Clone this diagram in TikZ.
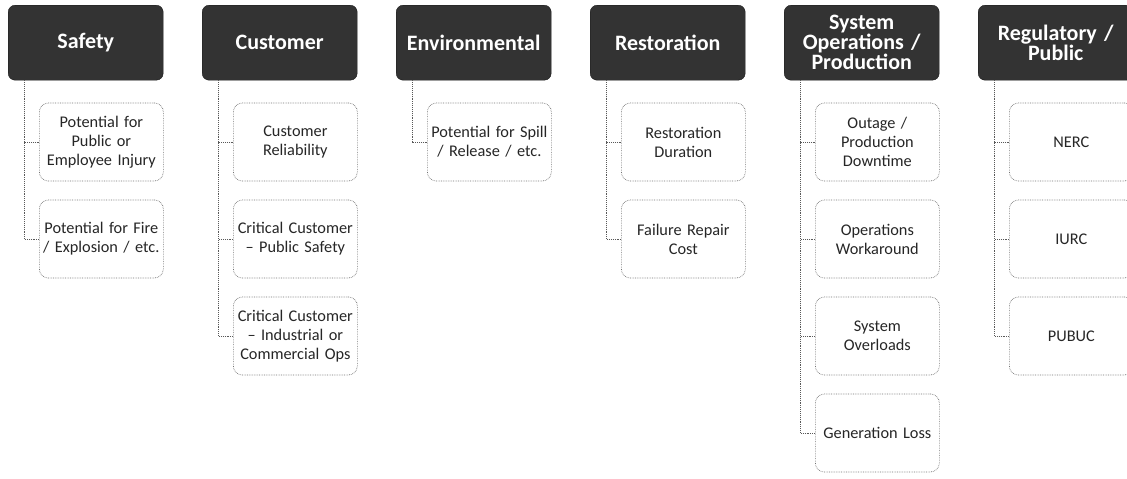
\documentclass[tikz,border=0pt]{standalone}
\usepackage{fontspec}
\setmainfont{Carlito}
\begin{document}
\begin{tikzpicture}[x=1pt,y=-1pt,
  head/.style={draw=black!90, fill=black!80, rounded corners=7pt,
    minimum width=155pt, minimum height=75pt, text width=152pt, inner sep=1pt,
    align=center, text=white, font=\bfseries\fontsize{22}{20}\selectfont,
    anchor=north west},
  leaf/.style={draw=black!55, densely dotted, line width=0.7pt, rounded corners=9pt,
    minimum width=124pt, minimum height=78pt, text width=122pt, inner sep=1pt,
    align=center, text=black!85, font=\fontsize{16.3}{19}\selectfont, anchor=west},
  link/.style={draw=black!65, densely dotted, line width=0.9pt}]
\clip (0,0) rectangle (1127,479);
\fill[white] (0,0) rectangle (1127,479);

% category headers
\node[head] (h1) at (8,5)   {Safety};
\node[head] (h2) at (202,5) {Customer};
\node[head] (h3) at (396,5) {Environmental};
\node[head] (h4) at (590,5) {Restoration};
\node[head] (h5) at (784,5) {System\\Operations /\\Production};
\node[head] (h6) at (978,5) {Regulatory /\\Public};

% Safety
\node[leaf] (s1) at (39,142) {Potential for\\Public or\\Employee Injury};
\node[leaf] (s2) at (39,239) {Potential for Fire\\/ Explosion / etc.};
% Customer
\node[leaf] (c1) at (233,142) {Customer\\Reliability};
\node[leaf] (c2) at (233,239) {Critical Customer\\– Public Safety};
\node[leaf] (c3) at (233,336) {Critical Customer\\– Industrial or\\Commercial Ops};
% Environmental
\node[leaf] (e1) at (427,142) {Potential for Spill\\/ Release / etc.};
% Restoration
\node[leaf] (r1) at (621,142) {Restoration\\Duration};
\node[leaf] (r2) at (621,239) {Failure Repair\\Cost};
% System Operations / Production
\node[leaf] (p1) at (815,142) {Outage /\\Production\\Downtime};
\node[leaf] (p2) at (815,239) {Operations\\Workaround};
\node[leaf] (p3) at (815,336) {System\\Overloads};
\node[leaf] (p4) at (815,433) {Generation Loss};
% Regulatory / Public
\node[leaf] (g1) at (1009,142) {NERC};
\node[leaf] (g2) at (1009,239) {IURC};
\node[leaf] (g3) at (1009,336) {PUBUC};

% connectors from each header down its trunk to the items
\foreach \h/\list in {h1/{s1,s2}, h2/{c1,c2,c3}, h3/{e1}, h4/{r1,r2},
                     h5/{p1,p2,p3,p4}, h6/{g1,g2,g3}}{
  \foreach \c in \list {
    \draw[link] ([xshift=16pt]\h.south west) |- (\c.west);
  }
}
\end{tikzpicture}
\end{document}
